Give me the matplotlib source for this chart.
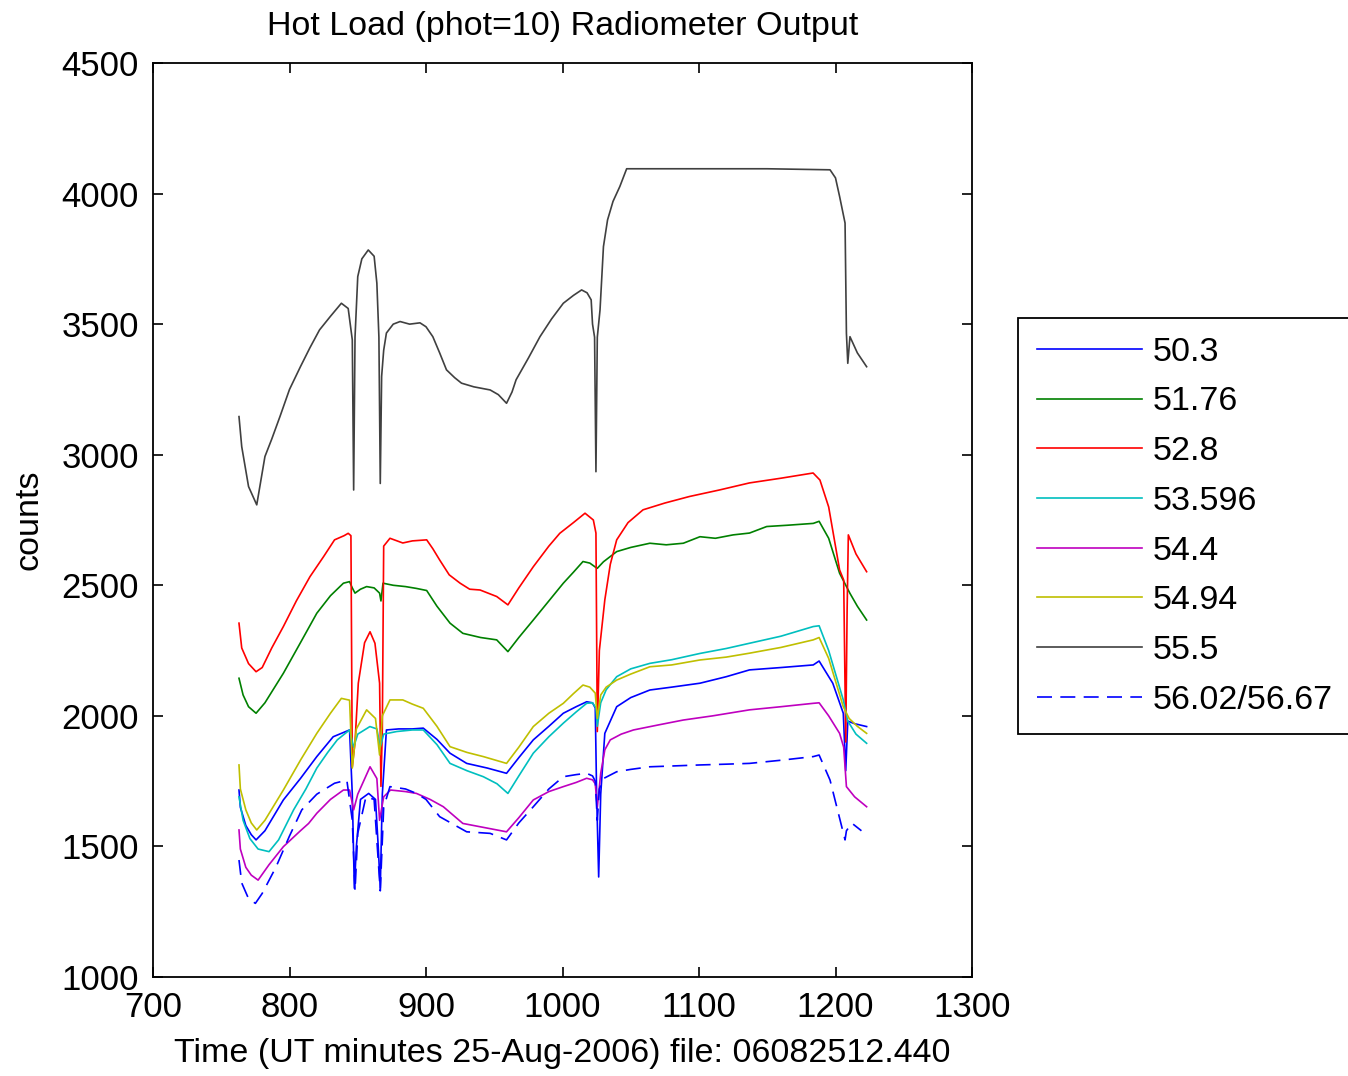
import matplotlib
matplotlib.use('Agg')
import matplotlib.pyplot as plt

# 字体: 接近 MATLAB 屏幕字体
plt.rcParams['font.family'] = ['Liberation Sans', 'DejaVu Sans']

# ========== data ==========
labels = ['50.3', '51.76', '52.8', '53.596', '54.4', '54.94', '55.5', '56.02/56.67']
colors = ['#0000ff', '#008000', '#ff0000', '#00bfbf', '#bf00bf', '#bfbf00', '#404040', '#0000ff']

# 50.3 (blue)
t_b = [763, 764, 768, 772, 775.5, 782, 795.5, 808, 820, 832, 844, 846, 847.5, 849, 852, 858, 863, 865, 866.5, 868,
       871, 880, 890, 898, 908, 917.6, 929.8, 945, 959, 968, 978.6, 990, 1000.6, 1010, 1017.7, 1022, 1024, 1025, 1026.5, 1028,
       1031, 1039.7, 1050, 1064, 1080, 1100.7, 1120, 1137, 1160, 1183.7, 1188, 1198, 1205.7, 1207.5, 1209, 1214, 1222.8]
y_b = [1716, 1650, 1580, 1545, 1525, 1560, 1678, 1760, 1844, 1920, 1946, 1700, 1340, 1500, 1680, 1703, 1680, 1500, 1340, 1700,
       1946, 1950, 1950, 1953, 1910, 1857, 1818, 1800, 1780, 1840, 1908, 1960, 2010, 2035, 2054, 2050, 2030, 1700, 1383, 1700,
       1933, 2035, 2070, 2099, 2110, 2125, 2150, 2176, 2185, 2195, 2210, 2125, 2010, 1790, 1980, 1970, 1959]

# 51.76 (green)
t_g = [763, 766, 770, 775.5, 782, 795.5, 808, 820, 830, 839.5, 844, 846, 848, 852, 856.5, 862, 866, 867, 868.5, 876,
       885, 893, 900.5, 908, 917.6, 927, 940, 951.8, 960, 968, 978.6, 990, 1000.6, 1008, 1015, 1020, 1024, 1025.5, 1030, 1039.7,
       1050, 1064, 1076, 1088.5, 1100.7, 1112, 1125, 1137, 1149.6, 1165, 1183.7, 1188, 1195, 1203, 1210.6, 1216, 1222.8]
y_g = [2144, 2080, 2035, 2010, 2050, 2163, 2280, 2393, 2460, 2508, 2514, 2490, 2470, 2485, 2495, 2490, 2470, 2440, 2508, 2500,
       2495, 2488, 2480, 2420, 2355, 2316, 2300, 2291, 2246, 2300, 2367, 2440, 2508, 2550, 2591, 2585, 2570, 2565, 2590, 2629,
       2645, 2661, 2655, 2661, 2686, 2680, 2693, 2700, 2725, 2730, 2737, 2745, 2680, 2546, 2469, 2420, 2367]

# 52.8 (red)
t_r = [763, 765, 770, 775.5, 780, 787, 795.5, 805, 815, 825, 833, 840, 843, 845, 846, 848, 850.4, 855, 859, 862.6,
       866, 867, 868, 869, 873.6, 883, 890, 900.5, 905, 910, 917, 925, 932, 939.6, 951.8, 960, 968, 978.6, 990, 998,
       1008, 1016.5, 1022.6, 1024.5, 1025.5, 1027, 1031, 1035, 1039.7, 1048, 1059, 1075, 1093, 1115, 1137, 1160, 1183.6, 1188.6,
       1195, 1203, 1206, 1207.5, 1208.5, 1209.4, 1215, 1222.8]
y_r = [2355, 2260, 2200, 2169, 2185, 2260, 2342, 2440, 2533, 2610, 2674, 2690, 2699, 2690, 1805, 1900, 2125, 2280, 2322, 2278,
       2125, 1730, 1950, 2650, 2680, 2662, 2670, 2674, 2640, 2597, 2540, 2508, 2485, 2482, 2457, 2425, 2490, 2571, 2650, 2699,
       2740, 2776, 2750, 2700, 1940, 2250, 2444, 2580, 2674, 2740, 2789, 2815, 2840, 2865, 2892, 2910, 2930, 2903,
       2800, 2559, 2520, 1900, 2400, 2693, 2620, 2552]

# 53.596 (cyan)
t_c = [763, 766, 771, 777, 785, 792, 803, 812, 820, 828, 835, 844, 847, 850, 858.9, 864, 866.5, 869, 878.5, 890,
       898, 908, 917.6, 930, 942, 952, 960, 968, 978.6, 990, 1000.6, 1010, 1017.7, 1022, 1024.5, 1025.5, 1028, 1032, 1039.7, 1050,
       1064, 1080, 1100.7, 1120, 1137, 1160, 1183.7, 1188, 1195, 1205.7, 1209, 1215, 1222.8]
y_c = [1690, 1600, 1530, 1490, 1480, 1525, 1640, 1720, 1800, 1860, 1908, 1946, 1880, 1930, 1959, 1950, 1880, 1930, 1940, 1946,
       1946, 1890, 1818, 1790, 1767, 1740, 1703, 1770, 1857, 1920, 1972, 2015, 2048, 2050, 2030, 1960, 2050, 2100, 2150, 2180,
       2201, 2215, 2239, 2258, 2278, 2305, 2342, 2345, 2250, 2061, 1980, 1930, 1895]

# 54.4 (magenta)
t_m = [763, 764, 768, 772, 777, 785, 795.5, 808, 814, 820, 830, 839.5, 844, 847, 850, 859, 864, 866, 869, 874,
       885, 893, 903, 912.7, 927, 945, 959, 968, 978.6, 990, 1000.6, 1010, 1017.7, 1022, 1024, 1025.5, 1028, 1031, 1035, 1043,
       1052, 1070, 1088.5, 1110, 1137, 1160, 1183.7, 1188, 1195, 1203, 1206, 1208, 1214, 1222.8]
y_m = [1563, 1490, 1420, 1390, 1371, 1430, 1499, 1560, 1588, 1627, 1680, 1716, 1716, 1640, 1700, 1805, 1760, 1600, 1690, 1716,
       1710, 1703, 1680, 1652, 1588, 1570, 1556, 1610, 1678, 1710, 1729, 1745, 1761, 1755, 1740, 1650, 1780, 1870, 1908, 1930,
       1946, 1965, 1984, 2000, 2023, 2035, 2048, 2050, 2000, 1933, 1880, 1729, 1690, 1652]

# 54.94 (yellow)
t_y = [763, 764, 768, 772, 776, 782, 795.5, 808, 820, 830, 838, 844, 846, 849, 856.5, 863, 866, 868, 873.6, 883,
       890, 898, 908, 917.6, 930, 942, 959, 968, 978.6, 990, 1000.6, 1008, 1015, 1020, 1024, 1025.5, 1028, 1032, 1039.7, 1050,
       1064, 1080, 1100.7, 1120, 1137, 1160, 1183.7, 1188, 1195, 1205.7, 1210, 1216, 1222.8]
y_y = [1812, 1720, 1640, 1590, 1563, 1600, 1716, 1830, 1933, 2010, 2067, 2060, 1800, 1950, 2023, 1990, 1850, 2000, 2061, 2061,
       2045, 2029, 1960, 1882, 1860, 1844, 1818, 1880, 1959, 2010, 2048, 2085, 2118, 2110, 2087, 1990, 2080, 2110, 2137, 2160,
       2188, 2195, 2214, 2225, 2240, 2262, 2291, 2300, 2220, 2035, 1990, 1960, 1933]

# 55.5 (dark gray)
t_k = [763, 765, 770, 776, 782, 787, 793, 800, 808, 815, 822, 830, 838, 843, 846, 847, 848, 850, 853, 857.7,
       862, 864, 865.5, 866.5, 867.5, 869, 871, 876, 881, 888, 895.6, 900, 905, 910, 915, 921, 926, 935, 947, 953,
       959, 963, 966, 975, 983.5, 992, 1000.6, 1008, 1014, 1018, 1021, 1022, 1023.5, 1024.5, 1025.5, 1027.5, 1030, 1033, 1037, 1042,
       1047, 1100, 1150, 1196, 1200, 1203, 1207, 1208, 1209, 1210.6, 1216, 1222.8]
y_k = [3146, 3031, 2878, 2808, 2993, 3060, 3146, 3250, 3337, 3410, 3478, 3530, 3580, 3560, 3440, 2865, 3450, 3682, 3750, 3784,
       3760, 3657, 3450, 2890, 3300, 3400, 3466, 3500, 3510, 3500, 3505, 3490, 3452, 3390, 3325, 3295, 3274, 3260, 3248, 3230,
       3197, 3240, 3287, 3370, 3452, 3520, 3580, 3610, 3631, 3620, 3593, 3500, 3450, 2935, 3450, 3555, 3797, 3899, 3970, 4027,
       4095, 4095, 4095, 4091, 4060, 3989, 3887, 3465, 3350, 3452, 3390, 3337]

# 56.02/56.67 (blue dashed)
t_d = [763, 765, 770, 775, 780, 790, 800, 809, 820, 833, 842, 846, 848, 850, 856, 862, 866.5, 869, 873.6, 885,
       893, 900, 910, 929.8, 947, 959, 968, 978.6, 990, 1000.6, 1010, 1017.7, 1022, 1024, 1025.5, 1027, 1030, 1039.7, 1050, 1064,
       1080, 1100.7, 1120, 1137, 1160, 1183.7, 1188, 1196, 1207, 1208, 1212, 1219]
y_d = [1448, 1360, 1300, 1282, 1320, 1420, 1540, 1640, 1700, 1742, 1754, 1600, 1330, 1550, 1690, 1680, 1330, 1650, 1729, 1720,
       1703, 1680, 1614, 1556, 1550, 1525, 1590, 1652, 1720, 1767, 1775, 1780, 1770, 1750, 1600, 1720, 1760, 1786, 1795, 1805,
       1808, 1812, 1815, 1818, 1830, 1844, 1850, 1754, 1525, 1560, 1589, 1560]

series_t = [t_b, t_g, t_r, t_c, t_m, t_y, t_k, t_d]
series_y = [y_b, y_g, y_r, y_c, y_m, y_y, y_k, y_d]

# ========== plot ==========
fig = plt.figure(figsize=(13.48, 10.76), dpi=100, facecolor='white')
ax = fig.add_axes([153/1348, 1 - 977/1076, (972-153)/1348, (977-63)/1076])

for i in range(len(labels)):
    ls = (0, (9, 5)) if i == 7 else '-'
    ax.plot(series_t[i], series_y[i], color=colors[i], lw=1.2, ls=ls, label=labels[i])

ax.set_xlim(700, 1300)
ax.set_ylim(1000, 4500)
ax.set_xticks(range(700, 1301, 100))
ax.set_yticks(range(1000, 4501, 500))
ax.tick_params(direction='in', length=7, width=1.2, top=True, right=True, labelsize=25, pad=10)
for s in ax.spines.values():
    s.set_linewidth(1.3)

ax.set_title('Hot Load (phot=10) Radiometer Output', fontsize=24.5, pad=20)
ax.set_xlabel('Time (UT minutes 25-Aug-2006) file: 06082512.440', fontsize=24.5, labelpad=10)
ax.set_ylabel('counts', fontsize=24.5, labelpad=12)

leg = ax.legend(loc='upper left', bbox_to_anchor=(1018/1348, 1 - 318/1076),
                bbox_transform=fig.transFigure, fontsize=24.5, frameon=True,
                fancybox=False, edgecolor='black', framealpha=1,
                handlelength=3.1, handletextpad=0.3, labelspacing=0.55,
                borderpad=0.55, borderaxespad=0)
leg.get_frame().set_linewidth(1.3)

fig.savefig('out.png', dpi=100, facecolor='white')
